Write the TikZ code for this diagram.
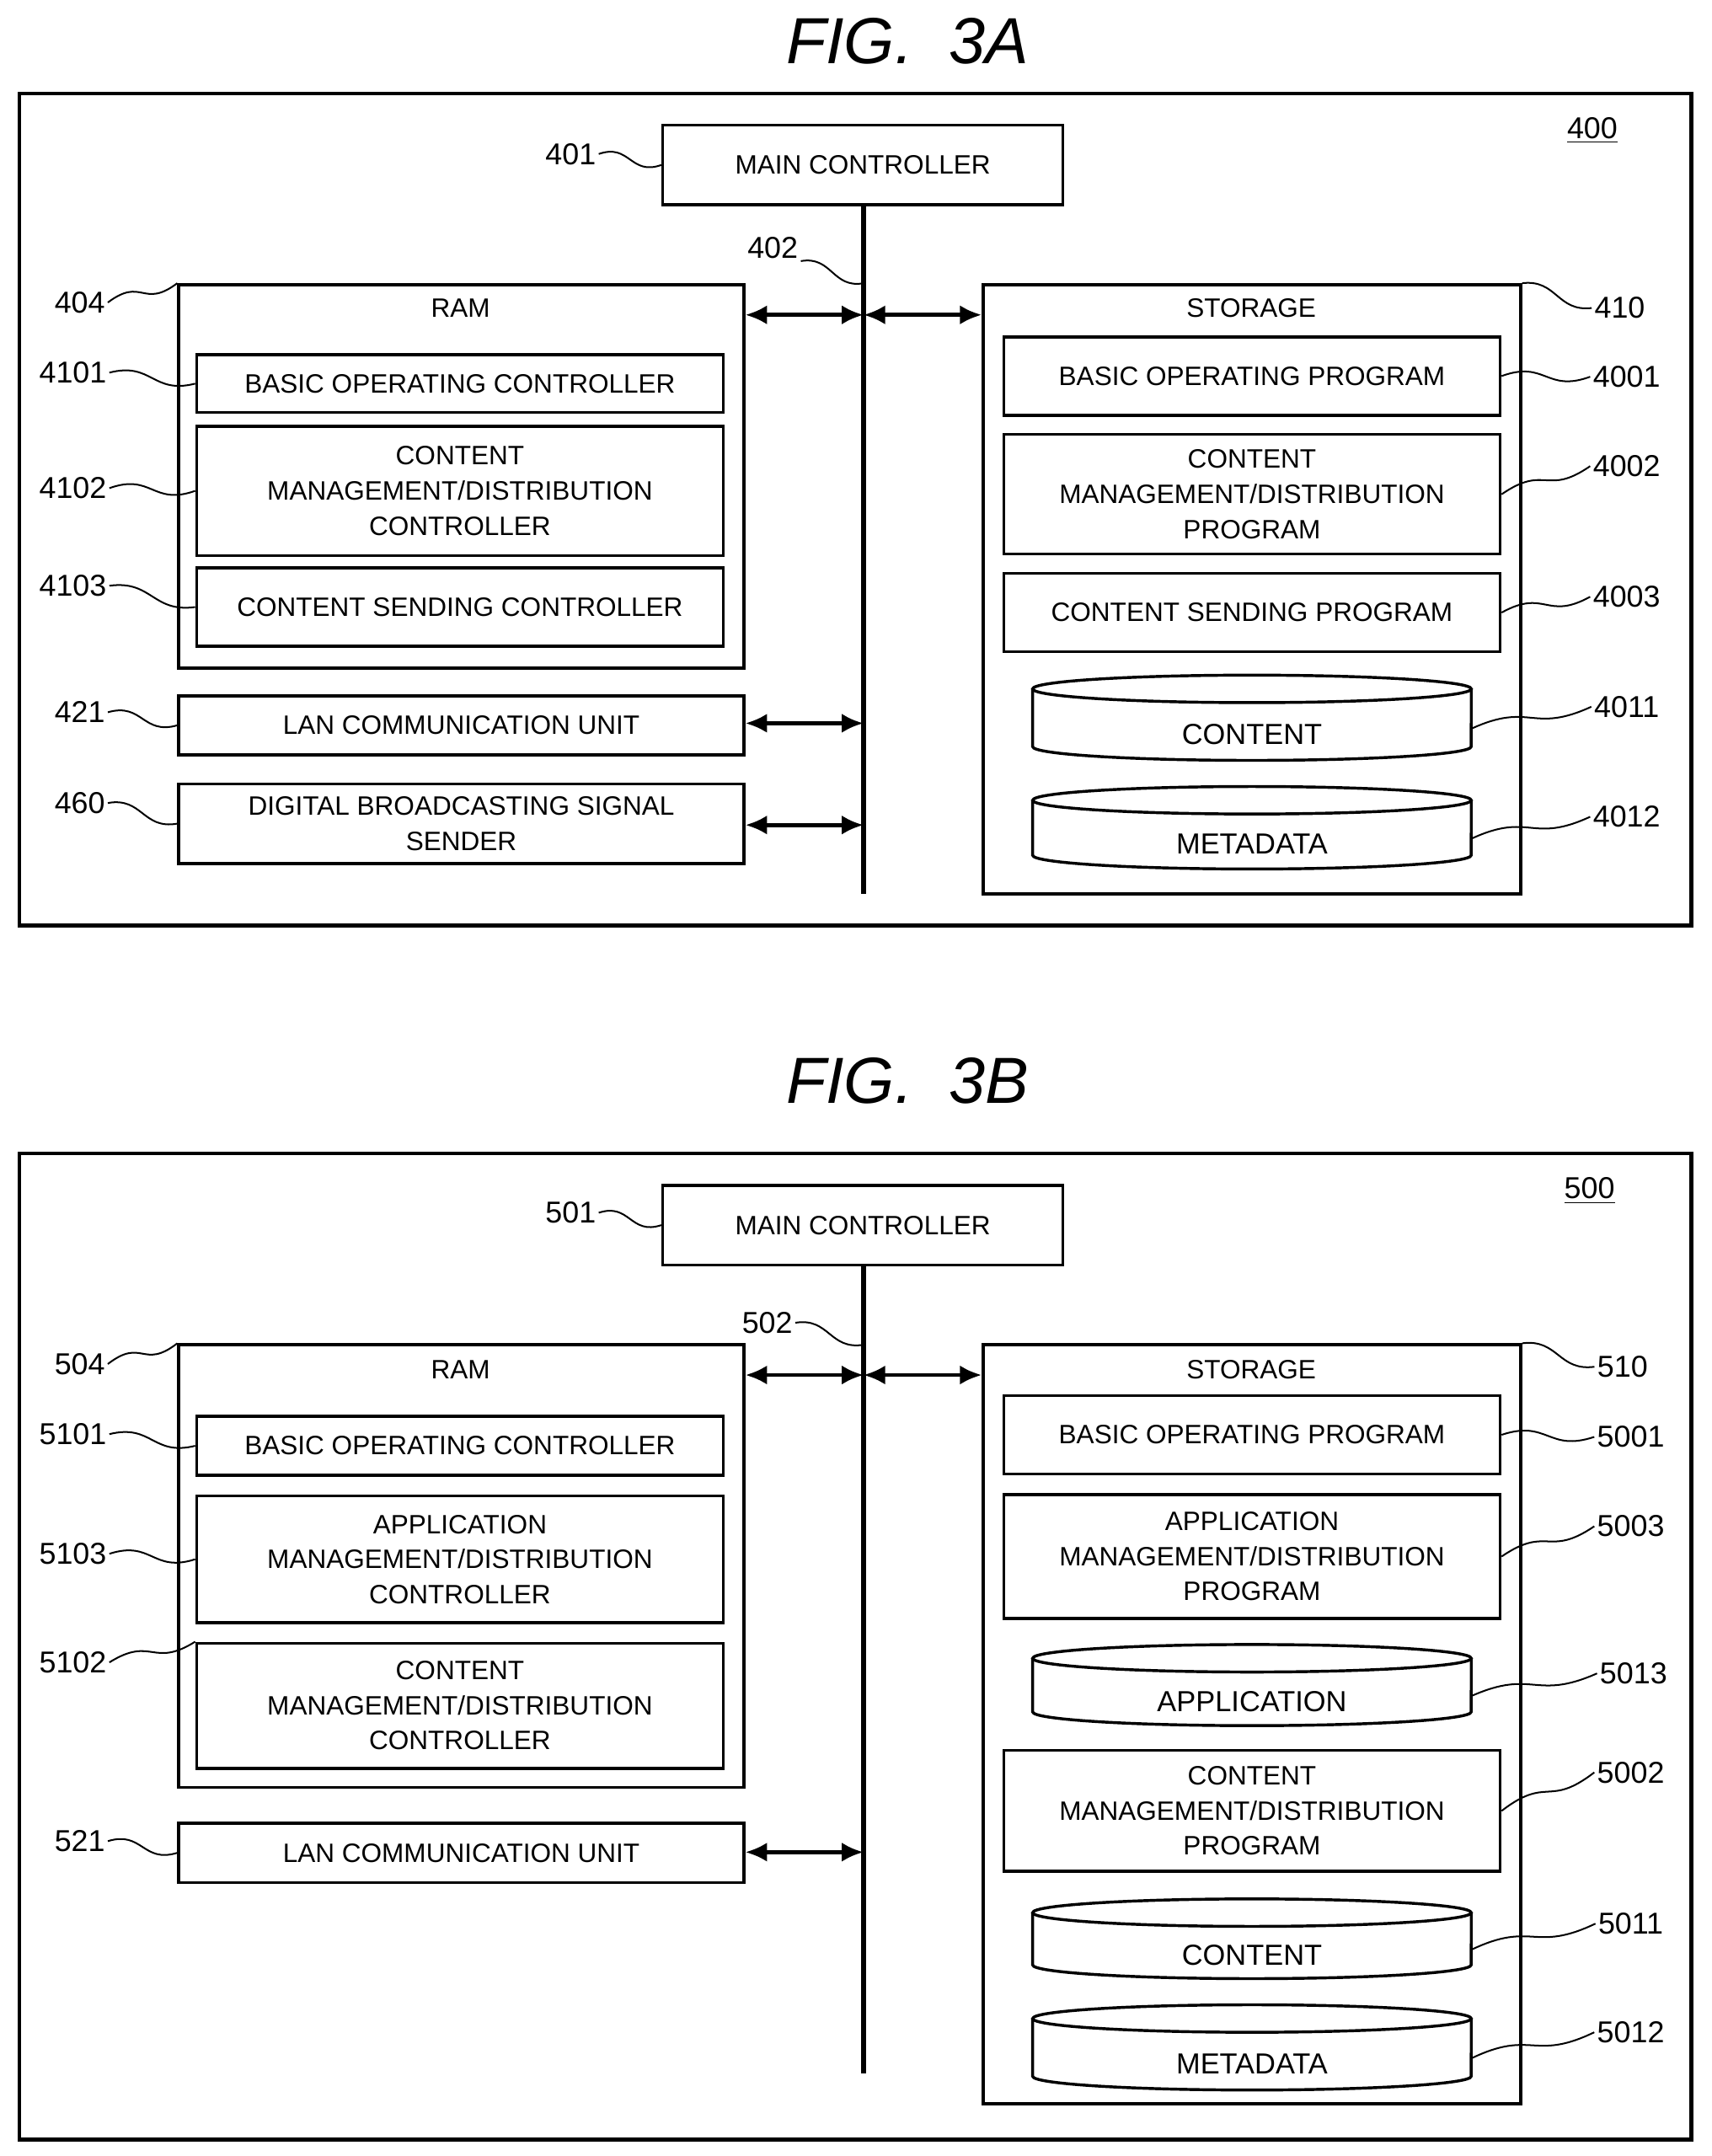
\documentclass[tikz,border=0pt]{standalone}
\usepackage{fontspec}
\setmainfont{Liberation Sans}
\usetikzlibrary{calc,arrows.meta}
\begin{document}
\begin{tikzpicture}[x=0.02cm,y=-0.02cm,
  box/.style={draw,line width=1.2pt,inner sep=0pt,align=center,font=\fontsize{11}{14.5}\selectfont},
  txt/.style={inner sep=0pt,align=center,font=\fontsize{11}{14.5}\selectfont},
  lab/.style={inner sep=1pt,font=\fontsize{12.5}{14}\selectfont},
  sqs/.style={line width=0.7pt},
  arr/.style={line width=1.6pt,{Latex[length=9pt,width=8pt]}-{Latex[length=9pt,width=8pt]}},
  bus/.style={line width=2.2pt},
  ttl/.style={font=\fontsize{27}{30}\selectfont\itshape}]
\newcommand\bx[6]{\node[box,minimum width={(#4-#2)*0.02cm},minimum height={(#5-#3)*0.02cm}] (#1) at ({(#2+#4)/2},{(#3+#5)/2}) {#6};}
\newcommand\sqq[2]{\draw[sqs] (#1) .. controls ($(#1)!0.5!(#2)+(0,-12)$) and ($(#1)!0.5!(#2)+(0,12)$) .. (#2);}
\newcommand\cyl[5]{%
  \draw[line width=1.2pt,fill=white] (751,#2+10) -- (751,#3-10) arc[start angle=180,end angle=360,x radius=3.19cm,y radius=0.2cm] -- (1070,#2+10);
  \draw[line width=1.2pt] (910.5,#2+10) ellipse[x radius=3.19cm,y radius=0.2cm];
  \coordinate (#1) at (1070,{(#2+#3)/2+8});
  \node[txt,font=\fontsize{12}{14}\selectfont] (#1t) at (910.5,{(#2+#3)/2+12}) {#4};}
\useasboundingbox (0,0) rectangle (1245,1568);
% ===== FIG 3A =====
\node[ttl] (t3a) at (660,30) {FIG.\ \ 3A};
\node[draw,line width=1.5pt,minimum width={1216*0.02cm},minimum height={605*0.02cm}] (f400) at (622,370.5) {};
\node[lab] (l400) at (1158,95) {\underline{400}};
\bx{mc4}{482}{91}{773}{149}{MAIN CONTROLLER}
\coordinate (bt4) at (628,149); \coordinate (bb4) at (628,650);
\draw[bus] (bt4) -- (bb4);
\bx{ram4}{130}{207}{541}{486}{}
\node[txt] (ramt4) at (335,224) {RAM};
\bx{b4101}{143}{258}{526}{300}{BASIC OPERATING CONTROLLER}
\bx{b4102}{143}{310}{526}{404}{CONTENT\\MANAGEMENT/DISTRIBUTION\\CONTROLLER}
\bx{b4103}{143}{413}{526}{470}{CONTENT SENDING CONTROLLER}
\bx{lan4}{130}{506}{541}{549}{LAN COMMUNICATION UNIT}
\bx{dbs4}{130}{570}{541}{628}{DIGITAL BROADCASTING SIGNAL\\SENDER}
\bx{st4}{715}{207}{1106}{650}{}
\node[txt] (stt4) at (910,224) {STORAGE};
\bx{b4001}{730}{245}{1091}{302}{BASIC OPERATING PROGRAM}
\bx{b4002}{730}{316}{1091}{403}{CONTENT\\MANAGEMENT/DISTRIBUTION\\PROGRAM}
\bx{b4003}{730}{417}{1091}{474}{CONTENT SENDING PROGRAM}
\cyl{c4011}{491}{553}{CONTENT}{}
\cyl{c4012}{572}{632}{METADATA}{}
\coordinate (a1) at (628,229); \coordinate (a2) at (628,526); \coordinate (a3) at (628,600);
\draw[arr] (ram4.east |- a1) -- (a1);
\draw[arr] (a1) -- (st4.west |- a1);
\draw[arr] (lan4.east |- a2) -- (a2);
\draw[arr] (dbs4.east |- a3) -- (a3);
\node[lab] (l401) at (415,112) {401}; \sqq{l401.east}{mc4.west}
\node[lab] (l402) at (562,180) {402}; \coordinate (p402) at (628,206); \sqq{l402.south east}{p402}
\node[lab] (l404) at (58,220) {404}; \sqq{l404.east}{ram4.north west}
\node[lab] (l4101) at (53,271) {4101}; \sqq{l4101.east}{b4101.west}
\node[lab] (l4102) at (53,355) {4102}; \sqq{l4102.east}{b4102.west}
\node[lab] (l4103) at (53,426) {4103}; \sqq{l4103.east}{b4103.west}
\node[lab] (l421) at (58,518) {421}; \sqq{l421.east}{lan4.west}
\node[lab] (l460) at (58,584) {460}; \sqq{l460.east}{dbs4.west}
\node[lab] (l410) at (1178,224) {410}; \sqq{st4.north east}{l410.west}
\node[lab] (l4001) at (1183,274) {4001}; \sqq{b4001.east}{l4001.west}
\node[lab] (l4002) at (1183,339) {4002}; \sqq{b4002.east}{l4002.west}
\node[lab] (l4003) at (1183,434) {4003}; \sqq{b4003.east}{l4003.west}
\node[lab] (l4011) at (1183,514) {4011}; \sqq{c4011}{l4011.west}
\node[lab] (l4012) at (1183,594) {4012}; \sqq{c4012}{l4012.west}
% ===== FIG 3B =====
\node[ttl] (t3b) at (660,786) {FIG.\ \ 3B};
\node[draw,line width=1.5pt,minimum width={1216*0.02cm},minimum height={717*0.02cm}] (f500) at (622,1197.5) {};
\node[lab] (l500) at (1156,866) {\underline{500}};
\bx{mc5}{482}{862}{773}{920}{MAIN CONTROLLER}
\coordinate (bt5) at (628,920); \coordinate (bb5) at (628,1508);
\draw[bus] (bt5) -- (bb5);
\bx{ram5}{130}{978}{541}{1300}{}
\node[txt] (ramt5) at (335,996) {RAM};
\bx{b5101}{143}{1030}{526}{1073}{BASIC OPERATING CONTROLLER}
\bx{b5103}{143}{1088}{526}{1180}{APPLICATION\\MANAGEMENT/DISTRIBUTION\\CONTROLLER}
\bx{b5102}{143}{1195}{526}{1286}{CONTENT\\MANAGEMENT/DISTRIBUTION\\CONTROLLER}
\bx{lan5}{130}{1326}{541}{1369}{LAN COMMUNICATION UNIT}
\bx{st5}{715}{978}{1106}{1530}{}
\node[txt] (stt5) at (910,996) {STORAGE};
\bx{b5001}{730}{1015}{1091}{1072}{BASIC OPERATING PROGRAM}
\bx{b5003}{730}{1087}{1091}{1177}{APPLICATION\\MANAGEMENT/DISTRIBUTION\\PROGRAM}
\cyl{c5013}{1196}{1255}{APPLICATION}{}
\bx{b5002}{730}{1273}{1091}{1361}{CONTENT\\MANAGEMENT/DISTRIBUTION\\PROGRAM}
\cyl{c5011}{1381}{1439}{CONTENT}{}
\cyl{c5012}{1458}{1520}{METADATA}{}
\coordinate (a4) at (628,1000); \coordinate (a5) at (628,1347);
\draw[arr] (ram5.east |- a4) -- (a4);
\draw[arr] (a4) -- (st5.west |- a4);
\draw[arr] (lan5.east |- a5) -- (a5);
\node[lab] (l501) at (415,882) {501}; \sqq{l501.east}{mc5.west}
\node[lab] (l502) at (558,962) {502}; \coordinate (p502) at (628,978); \sqq{l502.east}{p502}
\node[lab] (l504) at (58,992) {504}; \sqq{l504.east}{ram5.north west}
\node[lab] (l5101) at (53,1043) {5101}; \sqq{l5101.east}{b5101.west}
\node[lab] (l5103) at (53,1130) {5103}; \sqq{l5103.east}{b5103.west}
\node[lab] (l5102) at (53,1209) {5102}; \sqq{l5102.east}{b5102.north west}
\node[lab] (l521) at (58,1339) {521}; \sqq{l521.east}{lan5.west}
\node[lab] (l510) at (1180,994) {510}; \sqq{st5.north east}{l510.west}
\node[lab] (l5001) at (1186,1045) {5001}; \sqq{b5001.east}{l5001.west}
\node[lab] (l5003) at (1186,1110) {5003}; \sqq{b5003.east}{l5003.west}
\node[lab] (l5013) at (1188,1217) {5013}; \sqq{c5013}{l5013.west}
\node[lab] (l5002) at (1186,1289) {5002}; \sqq{b5002.east}{l5002.west}
\node[lab] (l5011) at (1186,1399) {5011}; \sqq{c5011}{l5011.west}
\node[lab] (l5012) at (1186,1478) {5012}; \sqq{c5012}{l5012.west}
\end{tikzpicture}
\end{document}
